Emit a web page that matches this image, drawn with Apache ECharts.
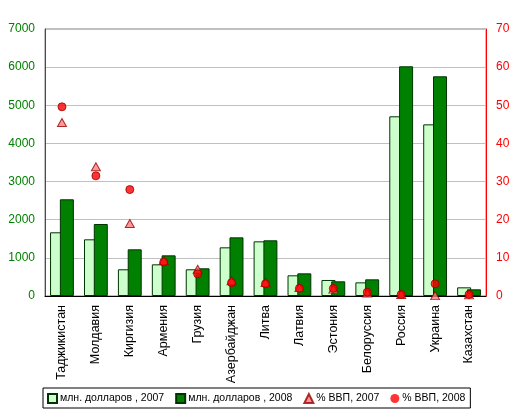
<!DOCTYPE html>
<html><head><meta charset="utf-8">
<script src="https://cdn.jsdelivr.net/npm/echarts@6/dist/echarts.min.js"></script>
<style>html,body{margin:0;padding:0;background:#fff}#c{width:517px;height:419px}</style>
</head><body><div id="c"></div>
<script>
const categories = ['Таджикистан','Молдавия','Киргизия','Армения','Грузия','Азербайджан','Литва','Латвия','Эстония','Белоруссия','Россия','Украина','Казахстан'];
const usd2007 = [1670, 1486, 700, 830, 700, 1276, 1433, 542, 420, 358, 4711, 4500, 227];
const usd2008 = [2535, 1888, 1224, 1066, 726, 1538, 1460, 594, 385, 437, 6022, 5760, 175];
const gdp2007 = [45.5, 33.9, 19.0, 9.3, 7.0, 4.0, 3.5, 2.2, 1.8, 0.8, 0.4, 0.1, 0.3];
const gdp2008 = [49.6, 31.5, 27.9, 8.9, 5.8, 3.5, 3.2, 2.0, 2.0, 1.0, 0.4, 3.2, 0.4];
const leftTicks = [0, 1000, 7000];
const rightTicks = [0, 10, 70];

const FONT = 'Liberation Sans';
const chart = echarts.init(document.getElementById('c'), null, {renderer: 'canvas'});
chart.setOption({
  animation: false,
  backgroundColor: '#fff',
  textStyle: {fontFamily: FONT},
  grid: {left: 45, right: 31, top: 29, bottom: 123, show: true, borderColor: '#808080', borderWidth: 1, backgroundColor: 'transparent'},
  legend: {
    left: 43, top: 388,
    padding: [5, 5, 4, 4],
    borderColor: '#000', borderWidth: 1,
    itemGap: 11, itemWidth: 9, itemHeight: 9,
    textStyle: {fontFamily: FONT, fontSize: 10.5, color: '#000', padding: [0, 0, 0, -2]},
    data: [
      {name: 'млн. долларов , 2007', icon: 'rect'},
      {name: 'млн. долларов , 2008', icon: 'rect'},
      {name: '% ВВП, 2007', icon: 'triangle'},
      {name: '% ВВП, 2008', icon: 'circle', itemStyle: {borderWidth: 0}}
    ]
  },
  xAxis: {
    type: 'category', data: categories,
    axisLine: {lineStyle: {color: '#000', width: 1}},
    axisTick: {show: false},
    axisLabel: {rotate: 90, fontFamily: FONT, fontSize: 12.5, color: '#000', margin: 9}
  },
  yAxis: [
    {type: 'value', min: leftTicks[0], max: leftTicks[2], interval: leftTicks[1],
     axisLine: {show: true, lineStyle: {color: '#008000'}},
     axisTick: {show: false},
     axisLabel: {color: '#008000', fontFamily: FONT, fontSize: 12, margin: 10, formatter: v => String(v)},
     splitLine: {lineStyle: {color: '#c0c0c0'}}},
    {type: 'value', min: rightTicks[0], max: rightTicks[2], interval: rightTicks[1], position: 'right',
     axisLine: {show: true, lineStyle: {color: '#ff0000'}},
     axisTick: {show: false},
     axisLabel: {color: '#ff0000', fontFamily: FONT, fontSize: 12, margin: 10, formatter: v => String(v)},
     splitLine: {show: false}}
  ],
  series: [
    {name: 'млн. долларов , 2007', type: 'bar', data: usd2007, barWidth: 14, barGap: '-30%',
     itemStyle: {color: '#ccffcc', borderColor: '#003300', borderWidth: 1}},
    {name: 'млн. долларов , 2008', type: 'bar', data: usd2008, barWidth: 14,
     itemStyle: {color: '#008000', borderColor: '#003300', borderWidth: 1}},
    {name: '% ВВП, 2007', type: 'scatter', yAxisIndex: 1, data: gdp2007, symbol: 'triangle', symbolSize: [9, 8], z: 5,
     itemStyle: {color: '#ff8080', borderColor: '#990000', borderWidth: 1}},
    {name: '% ВВП, 2008', type: 'scatter', yAxisIndex: 1, data: gdp2008, symbol: 'circle', symbolSize: 8, z: 6,
     itemStyle: {color: '#ff0000', borderColor: '#990000', borderWidth: 1}}
  ]
});
</script></body></html>
